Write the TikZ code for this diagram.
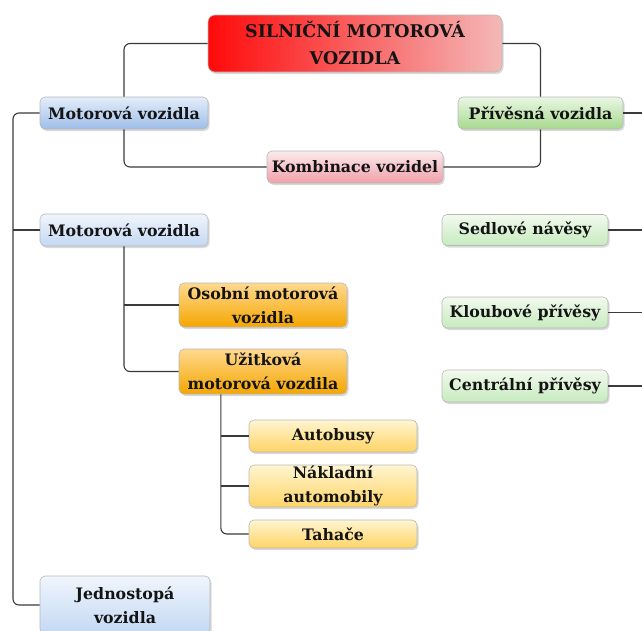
\documentclass[tikz,border=0pt]{standalone}
\usepackage{fontspec}
\setmainfont{DejaVu Serif}
\usetikzlibrary{shadows,calc}
\definecolor{boxborder}{HTML}{B8B8B8}
\definecolor{linec}{HTML}{3A3A3A}
\definecolor{blueT}{HTML}{E4EDF9}
\definecolor{blueB}{HTML}{9EBEE9}
\definecolor{lblueT}{HTML}{F0F5FC}
\definecolor{lblueB}{HTML}{C3D8F3}
\definecolor{greenT}{HTML}{EAF6E3}
\definecolor{greenB}{HTML}{A6D98E}
\definecolor{lgreenT}{HTML}{F2FAEE}
\definecolor{lgreenB}{HTML}{C6EBBE}
\definecolor{pinkT}{HTML}{FBEAEC}
\definecolor{pinkB}{HTML}{F0A0A9}
\definecolor{orangeT}{HTML}{FFD98F}
\definecolor{orangeB}{HTML}{F5A600}
\definecolor{yellowT}{HTML}{FFF5D2}
\definecolor{yellowB}{HTML}{FFD465}
\definecolor{redL}{HTML}{FF0A0A}
\definecolor{redR}{HTML}{F4B8B8}
\begin{document}
\begin{tikzpicture}[x=1pt,y=-1pt,
  box/.style={draw=boxborder, line width=0.6pt, rounded corners=5pt,
    font=\bfseries\fontsize{15.8}{24}\selectfont, align=center, inner sep=0pt,
    text=black!92,
    drop shadow={opacity=0.3, shadow xshift=1.5pt, shadow yshift=-2pt}},
  blue/.style={box, top color=blueT, bottom color=blueB},
  lblue/.style={box, top color=lblueT, bottom color=lblueB},
  green/.style={box, top color=greenT, bottom color=greenB},
  lgreen/.style={box, top color=lgreenT, bottom color=lgreenB},
  pink/.style={box, top color=pinkT, bottom color=pinkB},
  orange/.style={box, top color=orangeT, bottom color=orangeB},
  yellow/.style={box, top color=yellowT, bottom color=yellowB},
  titlebox/.style={box, left color=redL, right color=redR, rounded corners=7pt,
    font=\bfseries\fontsize{17.5}{27}\selectfont},
  conn/.style={draw=linec, line width=1.1pt, rounded corners=6pt}
]
\useasboundingbox (0,0) rectangle (642,630);

% nodes
\node[titlebox, minimum width=294pt, minimum height=57pt] (title) at (355,43.5) {SILNIČNÍ MOTOROVÁ\\VOZIDLA};
\node[blue, minimum width=168pt, minimum height=32pt] (mv1) at (124,113) {Motorová vozidla};
\node[green, minimum width=165pt, minimum height=32pt] (priv) at (540.5,113) {Přívěsná vozidla};
\node[pink, minimum width=176pt, minimum height=32pt] (komb) at (355,167) {Kombinace vozidel};
\node[lblue, minimum width=168pt, minimum height=32pt] (mv2) at (124,230) {Motorová vozidla};
\node[lgreen, minimum width=166pt, minimum height=31pt] (sedl) at (525,230) {Sedlové návěsy};
\node[lgreen, minimum width=166pt, minimum height=31pt] (kloub) at (525,312.5) {Kloubové přívěsy};
\node[lgreen, minimum width=166pt, minimum height=32pt] (centr) at (525,386) {Centrální přívěsy};
\node[orange, minimum width=168pt, minimum height=44pt] (osob) at (263,305) {Osobní motorová\\vozidla};
\node[orange, minimum width=168pt, minimum height=45pt] (uzit) at (263,371.5) {Užitková\\motorová vozdila};
\node[yellow, minimum width=168pt, minimum height=32pt] (autob) at (333,436) {Autobusy};
\node[yellow, minimum width=168pt, minimum height=42pt] (nakl) at (333,486) {Nákladní\\automobily};
\node[yellow, minimum width=168pt, minimum height=28pt] (tahac) at (333,534) {Tahače};
\node[lblue, minimum width=170pt, minimum height=58pt] (jedno) at (125,605) {Jednostopá\\vozidla};

% helper coordinates
\coordinate (prout) at (642,113);
\coordinate (lt) at (13,113);
\coordinate (us) at ($(uzit.south west)!0.25!(uzit.south east)$);

% connectors
\draw[conn] (title.west) -| (mv1.north);
\draw[conn] (title.east) -| (priv.north);
\draw[conn] (mv1.south) |- (komb.west);
\draw[conn] (komb.east) -| (priv.south);
\draw[conn] (priv.east) -- (prout);
\draw[conn] (mv1.west) -- (lt) |- (jedno.west);
\draw[conn] (mv2.west) -- (mv2.west -| lt);
\draw[conn] (mv2.south) |- (uzit.west);
\draw[conn] (osob.west) -- (osob.west -| mv2.south);
\draw[conn] (us) |- (tahac.west);
\draw[conn] (autob.west) -- (autob.west -| us);
\draw[conn] (nakl.west) -- (nakl.west -| us);
\draw[conn] (sedl.east) -- (sedl.east -| prout);
\draw[conn] (kloub.east) -- (kloub.east -| prout);
\draw[conn] (centr.east) -- (centr.east -| prout);
\end{tikzpicture}
\end{document}
